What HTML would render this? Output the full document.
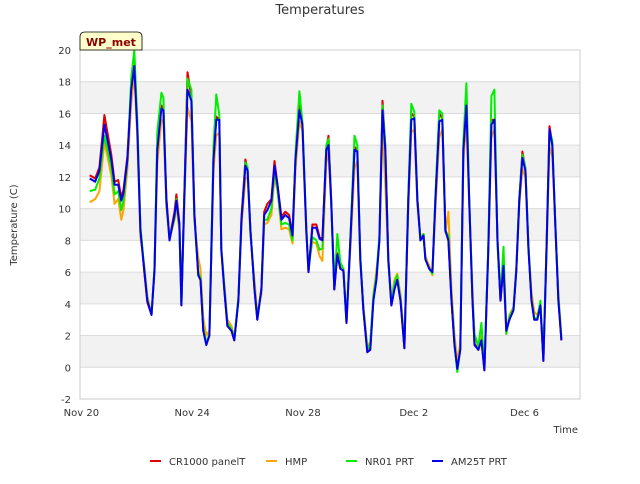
<!DOCTYPE html>
<html><head><meta charset="utf-8"><style>
body{margin:0;background:#fff;font-family:"DejaVu Sans",sans-serif}
</style></head><body>
<svg width="640" height="480" xmlns="http://www.w3.org/2000/svg" id="chart" font-family="DejaVu Sans, Liberation Sans, sans-serif">
<text x="320" y="14" text-anchor="middle" font-size="13" fill="#333">Temperatures</text>
<text transform="translate(17,225) rotate(-90)" text-anchor="middle" font-size="10" fill="#333">Temperature (C)</text>
<text x="578" y="433" text-anchor="end" font-size="10" fill="#333">Time</text>
<g id="bands"></g>
<g id="grid"></g>
<g id="yt"></g>
<g id="xt"></g>
<g id="series"></g>
<rect x="80" y="50" width="500" height="349" fill="none" stroke="#ccc"/>
<g>
<path d="M80,50 L80,37 Q80,32 85,32 L137,32 Q142,32 142,37 L142,50 Z" fill="#ffffcc" stroke="#000" stroke-width="0.8"/>
<text x="111" y="46" text-anchor="middle" font-size="11" font-weight="bold" fill="#8b0000">WP_met</text>
</g>
<g id="legend"></g>
</svg>
<script>
const days=[0.3,0.5,0.65,0.83,1.08,1.2,1.33,1.44,1.52,1.66,1.8,1.91,2.02,2.13,2.27,2.38,2.53,2.64,2.74,2.89,2.96,3.07,3.18,3.36,3.43,3.54,3.61,3.72,3.83,3.97,4.08,4.22,4.3,4.4,4.51,4.62,4.77,4.87,4.98,5.05,5.16,5.27,5.42,5.52,5.67,5.78,5.92,6.0,6.1,6.25,6.35,6.5,6.6,6.71,6.86,6.97,7.08,7.22,7.36,7.5,7.62,7.73,7.87,7.98,8.12,8.2,8.34,8.48,8.6,8.7,8.84,8.92,9.02,9.13,9.24,9.35,9.46,9.57,9.71,9.86,9.96,10.07,10.18,10.32,10.43,10.54,10.65,10.76,10.87,10.97,11.08,11.19,11.3,11.4,11.52,11.66,11.8,11.91,12.02,12.13,12.24,12.35,12.42,12.56,12.67,12.78,12.92,13.03,13.14,13.25,13.36,13.47,13.57,13.68,13.79,13.9,14.0,14.12,14.19,14.33,14.44,14.55,14.69,14.8,14.91,15.02,15.13,15.24,15.34,15.45,15.6,15.7,15.81,15.92,16.03,16.14,16.25,16.35,16.46,16.57,16.68,16.79,16.9,17.0,17.1,17.22,17.33];
const am25t=[11.9,11.7,12.4,15.3,13.1,11.5,11.5,10.5,11.0,13.1,17.5,19.0,15.0,8.6,6.1,4.2,3.3,6.1,13.7,16.3,16.2,10.5,8.0,9.6,10.5,9.0,3.9,10.9,17.5,16.8,9.6,5.8,5.5,2.3,1.4,2.0,13.1,15.6,15.6,7.4,4.9,2.6,2.3,1.7,4.2,9.3,12.7,12.4,8.6,4.9,3.0,4.9,9.6,9.9,10.5,12.7,11.5,9.3,9.6,9.4,8.3,13.1,16.2,15.3,8.6,6.0,8.8,8.8,8.1,8.0,13.7,14.0,10.5,4.9,7.1,6.2,6.1,2.8,8.0,13.7,13.6,6.8,3.6,0.95,1.1,4.2,5.5,8.0,16.2,13.7,6.8,3.9,4.9,5.5,4.2,1.2,10.5,15.6,15.7,10.5,8.0,8.3,6.8,6.2,6.0,10.5,15.5,15.6,8.6,8.0,4.2,1.4,-0.1,1.1,13.7,16.5,10.5,4.2,1.4,1.1,1.7,-0.2,7.4,15.3,15.6,8.0,4.2,6.4,2.3,3.0,3.6,6.1,10.5,13.2,12.4,7.4,4.2,3.0,3.0,3.9,0.4,7.4,15.0,14.0,9.3,4.2,1.7];
const cr1000=[12.1,11.9,12.6,15.9,13.4,11.7,11.8,10.7,11.2,13.3,17.7,18.8,15.2,8.8,6.0,4.1,3.3,6.2,13.9,16.5,16.2,10.7,8.1,9.8,10.9,9.1,3.9,11.1,18.6,17.0,9.7,5.8,5.6,2.3,1.5,2.0,13.3,15.8,15.6,7.5,4.9,2.6,2.3,1.7,4.3,9.5,13.1,12.4,8.7,4.9,3.0,5.0,9.8,10.3,10.6,13.0,11.5,9.5,9.8,9.6,8.4,13.2,16.5,15.3,8.7,6.0,9.0,9.0,8.2,8.1,13.8,14.6,10.6,4.9,7.2,6.2,6.2,2.8,8.1,13.9,13.7,6.9,3.6,0.95,1.2,4.3,5.6,8.1,16.8,13.9,6.9,3.9,5.0,5.6,4.2,1.2,10.6,16.0,15.8,10.6,8.1,8.4,6.9,6.3,6.0,10.6,16.0,15.7,8.7,8.0,4.2,1.4,-0.1,1.2,13.9,16.5,10.6,4.2,1.5,1.1,1.8,-0.2,7.5,15.6,15.6,8.0,4.2,6.5,2.4,3.0,3.7,6.1,10.6,13.6,12.5,7.5,4.2,3.0,3.1,3.9,0.4,7.5,15.2,14.1,9.4,4.2,1.7];
const hmp=[10.4,10.6,11.1,14.2,12.1,10.3,10.6,9.3,9.9,12.5,16.6,18.5,14.5,8.2,6.4,4.5,3.4,6.0,12.8,15.6,15.4,10.1,8.1,9.3,10.2,8.6,4.4,10.3,16.4,15.5,9.2,6.9,6.2,3.1,2.0,2.3,12.4,14.6,14.8,7.6,5.3,3.0,2.6,1.9,4.2,8.9,11.9,12.0,8.4,5.5,3.4,4.6,9.0,9.1,9.6,12.0,11.1,8.7,8.8,8.7,7.8,12.5,15.5,14.9,8.5,6.3,7.9,7.8,7.0,6.7,12.9,13.5,10.2,5.5,6.8,6.3,6.0,3.0,7.5,12.5,13.0,6.5,3.9,1.3,1.6,4.6,6.1,7.9,15.2,11.5,6.6,4.2,5.5,5.9,4.6,1.6,10.0,14.8,15.0,10.2,8.2,8.4,7.0,6.4,5.8,10.0,14.5,15.0,8.5,9.8,4.9,2.0,0.4,1.5,13.0,15.5,10.2,4.9,2.0,1.4,2.0,0.2,7.2,14.5,15.0,8.0,4.9,6.0,2.1,3.3,3.8,6.3,10.2,12.5,12.0,7.6,4.7,3.5,3.3,3.9,0.8,7.0,13.9,13.3,9.3,4.6,2.0];
const nr01=[11.1,11.2,11.9,14.6,12.6,10.9,11.1,9.9,10.5,13.0,18.2,20.0,15.6,8.9,6.2,4.3,3.3,6.3,14.8,17.3,17.0,10.3,8.2,9.4,10.6,8.8,4.0,10.7,18.2,17.5,9.4,6.0,5.6,2.5,1.5,2.1,13.9,17.2,15.9,7.5,5.1,2.8,2.4,1.8,4.4,9.2,12.9,12.6,8.7,5.0,3.1,4.9,9.3,9.3,10.0,12.4,11.2,9.0,9.1,9.0,8.0,13.5,17.4,15.5,8.9,6.1,8.2,8.0,7.4,7.5,14.0,14.4,10.4,5.0,8.4,6.6,6.2,2.9,8.2,14.6,14.0,7.0,3.7,1.1,1.5,4.5,5.8,8.3,16.5,14.0,6.7,4.0,5.3,5.8,4.3,1.3,10.8,16.6,16.1,10.5,8.1,8.4,6.8,6.2,5.9,10.8,16.2,16.0,8.6,8.3,4.3,1.5,-0.3,1.2,14.3,17.9,10.7,4.3,2.1,1.3,2.8,-0.1,7.6,17.1,17.5,7.7,4.3,7.6,2.1,3.2,3.7,6.2,10.7,13.4,12.6,7.6,4.3,3.1,3.1,4.2,0.5,7.6,14.9,14.3,9.4,4.4,1.8];
const yTicks=[-2,0,2,4,6,8,10,12,14,16,18,20];
const xTickDays=[0,4,8,12,16];
const xTickLabels=["Nov 20","Nov 24","Nov 28","Dec 2","Dec 6"];
const seriesNames=["CR1000 panelT","HMP","NR01 PRT","AM25T PRT"];
const seriesColors=["#e00000","#ffa500","#00ee00","#0000ee"];
const X0=80,X1=580,Y0=399,Y1=50,DMIN=-0.05,DMAX=18.0,VMIN=-2,VMAX=20;
const xs=d=>X0+(d-DMIN)/(DMAX-DMIN)*(X1-X0);
const ys=v=>Y0-(v-VMIN)/(VMAX-VMIN)*(Y0-Y1);
const NS="http://www.w3.org/2000/svg";
function mk(t,a,p){const e=document.createElementNS(NS,t);for(const k in a)e.setAttribute(k,a[k]);p.appendChild(e);return e;}
const bands=document.getElementById('bands'),grid=document.getElementById('grid'),yt=document.getElementById('yt'),xt=document.getElementById('xt');
for(let i=0;i<yTicks.length;i++){const v=yTicks[i];
 if(v<20&&((v%4)+4)%4===0){const r=mk('rect',{x:X0,y:ys(v+2),width:X1-X0,height:ys(v)-ys(v+2),fill:'#f2f2f2'},bands);
 
 }
 const l=mk('line',{x1:X0,x2:X1,y1:ys(v),y2:ys(v),stroke:'#dcdcdc'},grid);
 
 
 const t=mk('text',{x:71,y:ys(v)+4,'text-anchor':'end','font-size':10,fill:'#333'},yt);t.textContent=v;
 
 }
for(let i=0;i<xTickDays.length;i++){const x=xs(xTickDays[i]);
 const t=mk('text',{x:x,y:416,'text-anchor':'middle','font-size':10,fill:'#333'},xt);t.textContent=xTickLabels[i];
 
 }
const data=[cr1000,hmp,nr01,am25t];
const sg=document.getElementById('series');
for(let s=0;s<4;s++){let d='';for(let i=0;i<days.length;i++)d+=(i?'L':'M')+xs(days[i]).toFixed(1)+','+ys(data[s][i]).toFixed(1);
 const p=mk('path',{d:d,fill:'none',stroke:seriesColors[s],'stroke-width':2,'stroke-linejoin':'round'},sg);
 
 }
const lg=document.getElementById('legend');const lx=[150,266,346,432];
for(let s=0;s<4;s++){const g=mk('g',{},lg);
 
 
 mk('line',{x1:lx[s],x2:lx[s]+11,y1:461,y2:461,stroke:seriesColors[s],'stroke-width':2},g);
 const t=mk('text',{x:lx[s]+19,y:465,'font-size':10,fill:'#333'},g);t.textContent=seriesNames[s];}
</script>
</body></html>
